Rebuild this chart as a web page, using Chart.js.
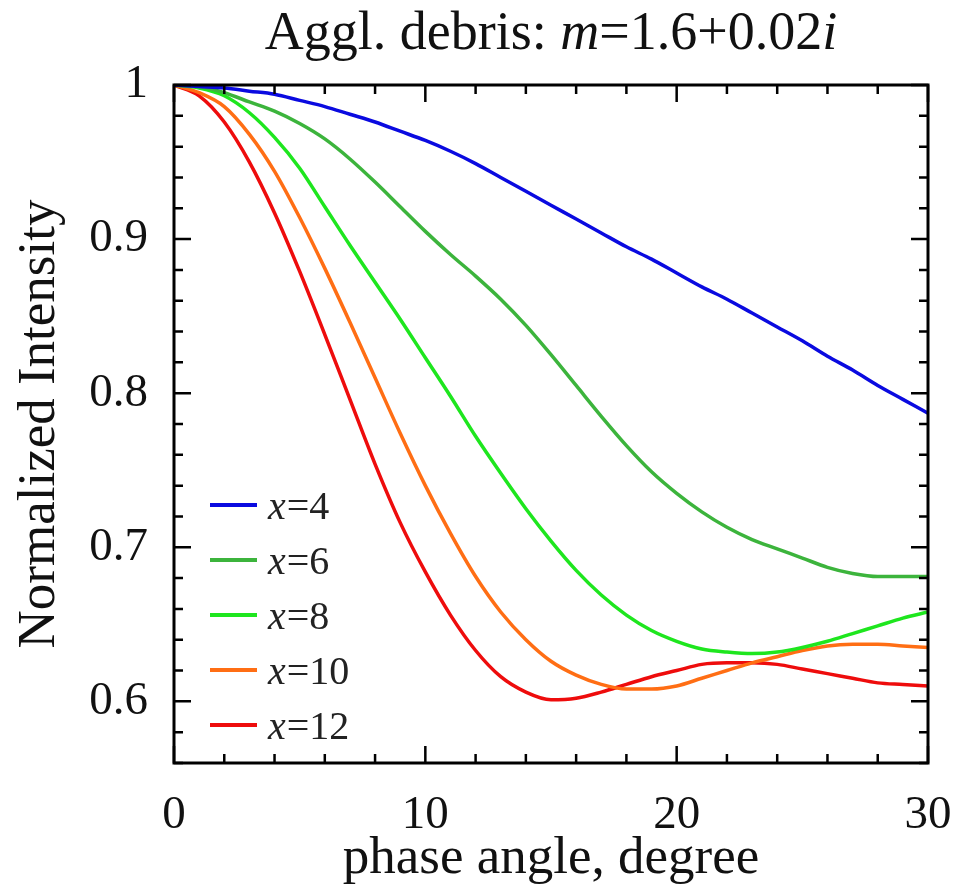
<!DOCTYPE html>
<html>
<head>
<meta charset="utf-8">
<script src="https://cdn.jsdelivr.net/npm/chart.js@4.4.1/dist/chart.umd.min.js"></script>
<style>
  html, body { margin: 0; padding: 0; background: #fff; }
</style>
</head>
<body>
<canvas id="chart" width="970" height="893"></canvas>
<script>
// phase angle, degree
const phaseAngle = [0, 1, 2, 3, 4, 5, 6, 7, 8, 9, 10, 11, 12, 13, 14, 15, 16, 17, 18, 19, 20, 21, 22, 23, 24, 25, 26, 27, 28, 29, 30];

// size parameter of each curve
const sizeParams = ['4', '6', '8', '10', '12'];

// normalized intensity
const intensityX4 = [1.000, 0.999, 0.998, 0.996, 0.994, 0.990, 0.986, 0.981, 0.976, 0.970, 0.964, 0.957, 0.949, 0.940, 0.931, 0.922, 0.913, 0.904, 0.895, 0.887, 0.878, 0.869, 0.861, 0.852, 0.843, 0.834, 0.824, 0.815, 0.805, 0.796, 0.787];
const intensityX6 = [1.000, 0.999, 0.995, 0.989, 0.983, 0.975, 0.965, 0.952, 0.937, 0.921, 0.905, 0.890, 0.876, 0.861, 0.844, 0.825, 0.805, 0.785, 0.766, 0.749, 0.735, 0.723, 0.713, 0.705, 0.699, 0.693, 0.687, 0.683, 0.681, 0.681, 0.681];
const intensityX8 = [1.000, 0.998, 0.993, 0.982, 0.966, 0.946, 0.921, 0.896, 0.872, 0.848, 0.823, 0.798, 0.772, 0.748, 0.725, 0.704, 0.685, 0.669, 0.656, 0.646, 0.639, 0.634, 0.632, 0.631, 0.632, 0.635, 0.639, 0.644, 0.649, 0.654, 0.658];
const intensityX10 = [1.000, 0.995, 0.986, 0.968, 0.944, 0.914, 0.881, 0.846, 0.810, 0.774, 0.740, 0.709, 0.681, 0.658, 0.640, 0.626, 0.617, 0.611, 0.608, 0.608, 0.610, 0.615, 0.620, 0.625, 0.629, 0.633, 0.636, 0.637, 0.637, 0.636, 0.635];
const intensityX12 = [1.000, 0.993, 0.976, 0.950, 0.917, 0.879, 0.838, 0.796, 0.754, 0.716, 0.684, 0.656, 0.633, 0.616, 0.606, 0.601, 0.602, 0.606, 0.611, 0.616, 0.620, 0.624, 0.625, 0.625, 0.624, 0.621, 0.618, 0.615, 0.612, 0.611, 0.610];

const seriesValues = [intensityX4, intensityX6, intensityX8, intensityX10, intensityX12];
const seriesColors = ['#0a0ae0', '#3cb43c', '#1ee61e', '#ff6e14', '#ee0c0c'];

const serif = '"Liberation Serif", "DejaVu Serif", serif';

// frame with inward ticks on all four sides
const framePlugin = {
    id: 'frame',
    afterDatasetsDraw(chart) {
        const { ctx, chartArea: a, scales } = chart;
        ctx.save();
        ctx.strokeStyle = '#000';
        ctx.lineWidth = 2.5;
        scales.x.ticks.forEach(t => {
            const px = scales.x.getPixelForValue(t.value);
            const len = t.value % 10 === 0 ? 17 : 9;
            ctx.beginPath();
            ctx.moveTo(px, a.bottom); ctx.lineTo(px, a.bottom - len);
            ctx.moveTo(px, a.top); ctx.lineTo(px, a.top + len);
            ctx.stroke();
        });
        scales.y.ticks.forEach(t => {
            const py = scales.y.getPixelForValue(t.value);
            const major = Math.abs(t.value * 10 - Math.round(t.value * 10)) < 1e-6;
            const len = major ? 17 : 9;
            ctx.beginPath();
            ctx.moveTo(a.left, py); ctx.lineTo(a.left + len, py);
            ctx.moveTo(a.right, py); ctx.lineTo(a.right - len, py);
            ctx.stroke();
        });
        ctx.lineWidth = 3;
        ctx.strokeRect(a.left, a.top, a.right - a.left, a.bottom - a.top);
        ctx.restore();
    }
};

// title with italic m and i
const titlePlugin = {
    id: 'mixedTitle',
    afterDraw(chart) {
        const { ctx, chartArea: a } = chart;
        const parts = [
            ['Aggl. debris: ', 'normal'],
            ['m', 'italic'],
            ['=1.6+0.02', 'normal'],
            ['i', 'italic']
        ];
        ctx.save();
        ctx.fillStyle = '#111';
        ctx.textBaseline = 'alphabetic';
        let total = 0;
        parts.forEach(p => { ctx.font = p[1] + ' 54px ' + serif; total += ctx.measureText(p[0]).width; });
        let x = (a.left + a.right) / 2 - total / 2;
        parts.forEach(p => {
            ctx.font = p[1] + ' 54px ' + serif;
            ctx.fillText(p[0], x, 49);
            x += ctx.measureText(p[0]).width;
        });
        ctx.restore();
    }
};

// legend inside the plot, lower left
const legendPlugin = {
    id: 'insideLegend',
    afterDraw(chart) {
        const { ctx } = chart;
        ctx.save();
        chart.data.datasets.forEach((ds, i) => {
            const y = 505 + i * 55;
            ctx.strokeStyle = ds.borderColor;
            ctx.lineWidth = 4;
            ctx.beginPath();
            ctx.moveTo(210, y); ctx.lineTo(257, y);
            ctx.stroke();
            ctx.fillStyle = '#222';
            ctx.font = 'italic 40px ' + serif;
            ctx.fillText('x', 268, y + 14);
            const w = ctx.measureText('x').width;
            ctx.font = '40px ' + serif;
            ctx.fillText('=' + sizeParams[i], 268 + w + 1, y + 14);
        });
        ctx.restore();
    }
};

new Chart(
    document.getElementById('chart'),
    {
        type: 'line',
        data: {
            datasets: seriesValues.map((vals, i) => ({
                label: 'x=' + sizeParams[i],
                data: phaseAngle.map((p, j) => ({ x: p, y: vals[j] })),
                borderColor: seriesColors[i],
                borderWidth: 3.5,
                pointRadius: 0,
                fill: false,
                tension: 0.4,
                cubicInterpolationMode: 'monotone'
            }))
        },
        options: {
            responsive: false,
            animation: false,
            layout: { padding: { top: 85, right: 42, left: 0, bottom: 0 } },
            plugins: {
                legend: { display: false },
                tooltip: { enabled: false },
                title: { display: false }
            },
            scales: {
                x: {
                    type: 'linear',
                    min: 0,
                    max: 30,
                    grid: { display: false },
                    border: { display: false },
                    ticks: {
                        stepSize: 2,
                        autoSkip: false,
                        maxRotation: 0,
                        padding: 16,
                        color: '#111',
                        font: { family: serif, size: 47 },
                        callback: v => (v % 10 === 0 ? String(v) : '')
                    },
                    title: {
                        display: true,
                        text: 'phase angle, degree',
                        color: '#111',
                        font: { family: serif, size: 53 },
                        padding: { top: 0, bottom: 2 }
                    },
                    afterFit: s => { s.height = 130; }
                },
                y: {
                    type: 'linear',
                    min: 0.56,
                    max: 1.0,
                    grid: { display: false },
                    border: { display: false },
                    ticks: {
                        stepSize: 0.02,
                        autoSkip: false,
                        padding: 18,
                        color: '#111',
                        font: { family: serif, size: 47 },
                        callback: v => {
                            const r = Math.round(v * 10);
                            if (Math.abs(v * 10 - r) > 1e-6 || r < 6) return '';
                            return r === 10 ? '1' : (r / 10).toFixed(1);
                        }
                    },
                    title: {
                        display: true,
                        text: 'Normalized Intensity',
                        color: '#111',
                        font: { family: serif, size: 53 },
                        padding: { top: 8, bottom: 0 }
                    },
                    afterFit: s => { s.width = 174; }
                }
            }
        },
        plugins: [framePlugin, titlePlugin, legendPlugin]
    }
);
</script>
</body>
</html>
